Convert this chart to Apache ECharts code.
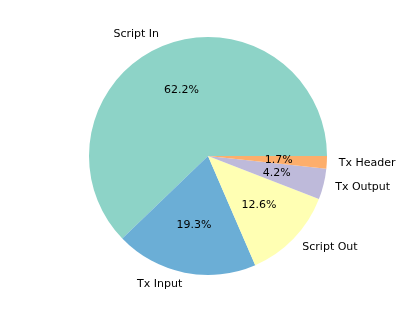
<!DOCTYPE html>
<html>
<head>
<meta charset="utf-8">
<script src="https://cdn.jsdelivr.net/npm/echarts@6/dist/echarts.min.js"></script>
<style>html,body{margin:0;padding:0;background:#fff;}#c{width:415px;height:313px;}</style>
</head>
<body>
<div id="c"></div>
<script>
const categories = ['Script In', 'Tx Input', 'Script Out', 'Tx Output', 'Tx Header'];
const values = [62.2, 19.3, 12.6, 4.2, 1.7];
const colors = ['#8dd3c7', '#6baed6', '#ffffb3', '#bebada', '#fdae6b'];

const R = 119;
const CX = 208, CY = 156;

const font = { fontFamily: 'DejaVu Sans', fontSize: 11, color: '#000' };
const common = {
  type: 'pie', center: [CX, CY], startAngle: 0, clockwise: false,
  avoidLabelOverlap: false, silent: true, animation: false,
  emphasis: { disabled: true }
};

const chart = echarts.init(document.getElementById('c'), null, { renderer: 'canvas' });
chart.setOption({
  backgroundColor: '#fff',
  series: [
    Object.assign({}, common, {
      radius: [0, R],
      itemStyle: { borderWidth: 0 },
      label: Object.assign({ show: true, position: 'outside', formatter: '{b}', alignTo: 'none', distanceToLabelLine: 0 }, font),
      labelLine: { show: false, length: R * 0.1, length2: 0 },
      data: categories.map((n, i) => ({ name: n, value: values[i], itemStyle: { color: colors[i] } }))
    }),
    Object.assign({}, common, {
      radius: [0, R * 1.14],
      itemStyle: { color: 'rgba(0,0,0,0)', borderWidth: 0 },
      labelLine: { show: false },
      label: Object.assign({ show: true, position: 'inside', formatter: p => p.value.toFixed(1) + '%' }, font),
      data: categories.map((n, i) => ({ name: n, value: values[i] }))
    })
  ]
});
</script>
</body>
</html>
